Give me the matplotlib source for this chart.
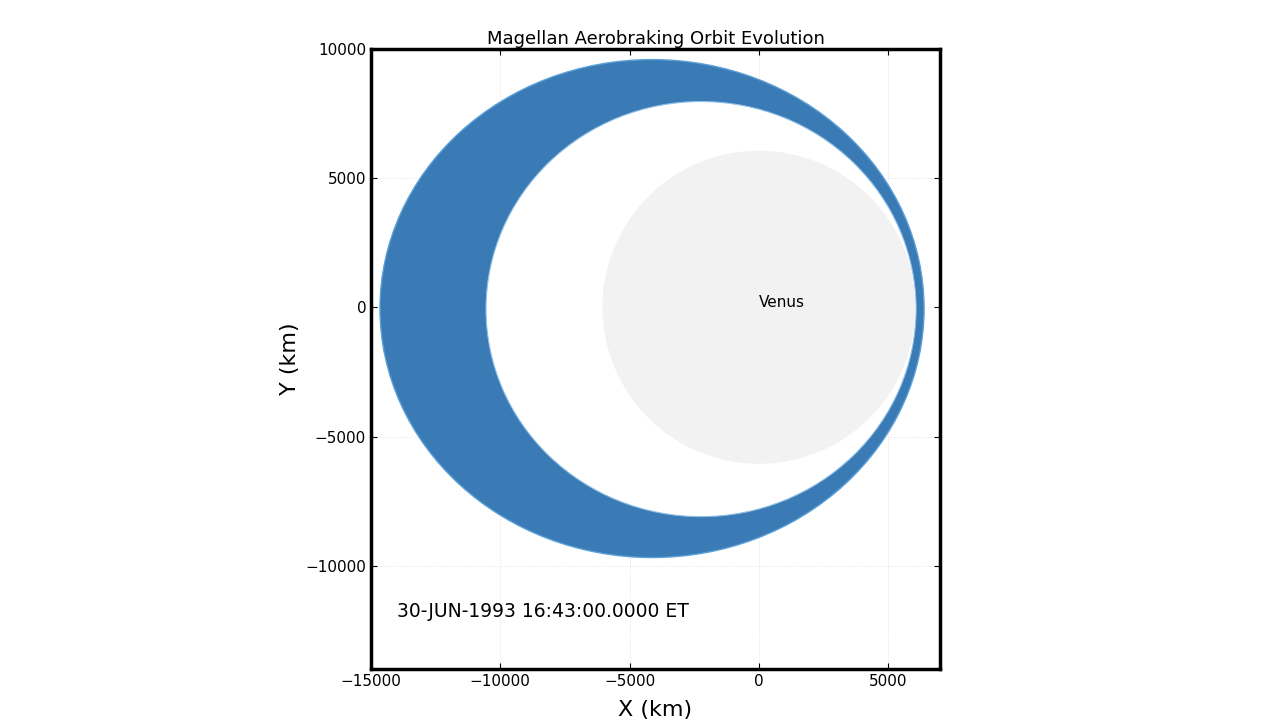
import numpy as np
import matplotlib.pyplot as plt
from matplotlib.patches import Ellipse, Circle

# orbit envelope (km): outer orbit and inner orbit, centre + full axes
outer_center = (-4134, -50)
outer_axes = (21036, 19252)
inner_center = (-2239, -70)
inner_axes = (16628, 16050)
venus_radius = 6052
timestamp = "30-JUN-1993 16:43:00.0000 ET"
xticks = [-15000, -10000, -5000, 0, 5000]
yticks = [-10000, -5000, 0, 5000, 10000]

fig = plt.figure(figsize=(12.8, 7.2), dpi=100)
ax = fig.add_axes([371/1280, 1-670/720, 569/1280, 622/720])

ax.add_patch(Ellipse(outer_center, *outer_axes, facecolor='#3a7ab5', edgecolor='#5aa0d8', lw=1, zorder=2))
ax.add_patch(Ellipse(inner_center, *inner_axes, facecolor='white', edgecolor='#8fc0e8', lw=0.8, zorder=3))
ax.add_patch(Circle((0, 0), venus_radius, facecolor='#f2f2f2', edgecolor='none', zorder=4))
ax.text(0, 180, "Venus", fontsize=11, ha='left', va='center', zorder=5)
ax.text(-14000, -11750, timestamp, fontsize=13.5, ha='left', va='center')

ax.set_xlim(-15000, 7000)
ax.set_ylim(-14000, 10000)
ax.set_aspect('equal')
ax.set_xticks(xticks)
ax.set_yticks(yticks)
ax.set_xticklabels([f"{v}".replace('-', '\u2212') for v in xticks])
ax.set_yticklabels([f"{v}".replace('-', '\u2212') for v in yticks])
ax.tick_params(direction='in', labelsize=11, top=True, right=True, length=4)
ax.grid(True, linestyle=':', color='#dddddd', lw=0.6, zorder=0)
for s in ax.spines.values():
    s.set_linewidth(2.5)
ax.set_xlabel("X (km)", fontsize=16, labelpad=8)
ax.set_ylabel("Y (km)", fontsize=16)
ax.set_title("Magellan Aerobraking Orbit Evolution", fontsize=13, pad=3)

fig.savefig("out.png", dpi=100)
